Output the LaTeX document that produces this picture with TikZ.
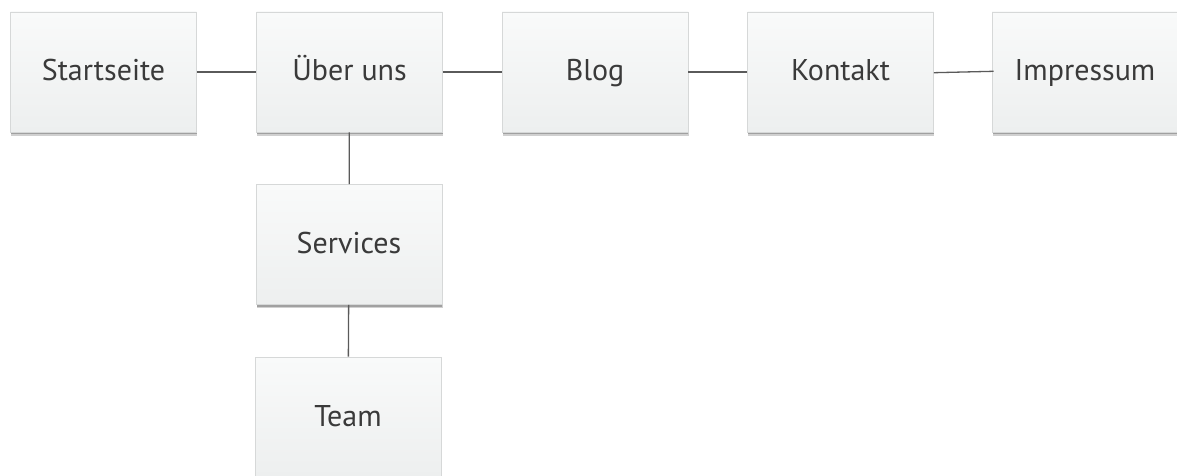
\documentclass[tikz,border=0pt]{standalone}
\usepackage{fontspec}
\setmainfont{PT Sans}
\definecolor{boxtop}{HTML}{F9FAFA}
\definecolor{boxbot}{HTML}{EDEFEF}
\definecolor{boxline}{HTML}{D6D8D8}
\definecolor{txt}{HTML}{3A3A3A}
\definecolor{conn}{HTML}{5A5A5A}
\definecolor{shadeA}{HTML}{A0A0A0}
\definecolor{shadeB}{HTML}{D0D0D0}
\tikzset{
  page/.style={minimum width=186pt, minimum height=120pt, inner sep=0pt,
    draw=boxline, line width=0.8pt, top color=boxtop, bottom color=boxbot,
    text=txt, font=\fontsize{30}{34}\selectfont, text height=21pt, text depth=3pt,
    append after command={\pgfextra{\begin{pgfonlayer}{background}
      \fill[shadeB] ([xshift=1pt,yshift=-3.5pt]\tikzlastnode.south west) rectangle ([xshift=0.5pt,yshift=0.5pt]\tikzlastnode.south east);
      \fill[shadeA] ([xshift=1pt,yshift=-2pt]\tikzlastnode.south west) rectangle ([xshift=0pt,yshift=0.5pt]\tikzlastnode.south east);
    \end{pgfonlayer}}}},
  link/.style={draw=conn, line width=1.3pt}
}
\pgfdeclarelayer{background}
\pgfsetlayers{background,main}
\begin{document}
\begin{tikzpicture}[x=1pt,y=-1pt]
\useasboundingbox (0,0) rectangle (1177,476);
\clip (0,0) rectangle (1177,476);
\node[page] (start) at (103.5,72) {Startseite};
\node[page] (ueber) at (349.5,72) {Über uns};
\node[page] (blog) at (595,72) {Blog};
\node[page] (kontakt) at (840.5,72) {Kontakt};
\node[page] (impressum) at (1085,72) {Impressum};
\node[page] (services) at (349,244.5) {Services};
\node[page] (team) at (348,417) {Team};
\draw[link] (start) -- (ueber);
\draw[link] (ueber) -- (blog);
\draw[link] (blog) -- (kontakt);
\draw[link] ([yshift=-0.7pt]kontakt.east) -- ([xshift=2pt,yshift=0.7pt]impressum.west);
\draw[link] (ueber) -- (services);
\draw[link] (services) -- (team);
\end{tikzpicture}
\end{document}
